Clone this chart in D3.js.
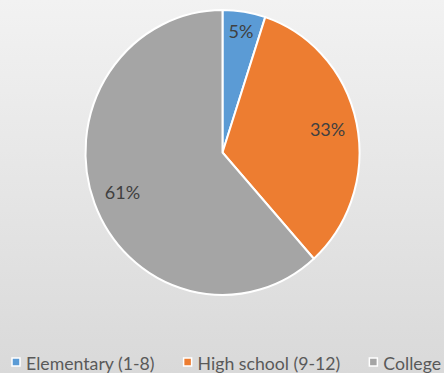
<!DOCTYPE html>
<html>
<head>
<meta charset="utf-8">
<script src="https://cdn.jsdelivr.net/npm/d3@7"></script>
<style>
  html, body { margin: 0; padding: 0; overflow: hidden; }
  svg { display: block; }
</style>
</head>
<body>
<div id="chart"></div>
<script>
const categories = ["Elementary (1-8)", "High school (9-12)", "College"];
const values = [5, 33, 61];
const colors = ["#5b9bd5", "#ed7d31", "#a5a5a5"];

const W = 444, H = 373;
const cx = 222.5, cy = 152.5, R = 137, SY = 1.04;
const FONT = "Lato, 'Open Sans', sans-serif";

const svg = d3.select("#chart").append("svg")
  .attr("width", W).attr("height", H);

const defs = svg.append("defs");
const grad = defs.append("linearGradient").attr("id", "bg")
  .attr("x1", 0).attr("y1", 0).attr("x2", 0).attr("y2", 1);
grad.append("stop").attr("offset", "0%").attr("stop-color", "#f2f2f2");
grad.append("stop").attr("offset", "100%").attr("stop-color", "#d9d9d9");

svg.append("rect").attr("width", W).attr("height", H).attr("fill", "url(#bg)");

const data = categories.map((c, i) => ({ name: c, value: values[i], color: colors[i] }));

const pie = d3.pie().sort(null).value(d => d.value);
const arc = d3.arc().innerRadius(0).outerRadius(R);

const g = svg.append("g").attr("transform", `translate(${cx},${cy}) scale(1,${SY})`);
const arcs = pie(data);

g.selectAll("path.slice").data(arcs).join("path")
  .attr("class", "slice")
  .attr("d", arc)
  .attr("fill", d => d.data.color)
  .attr("stroke", "#ffffff")
  .attr("stroke-width", 2)
  .attr("stroke-linejoin", "round");

// Data labels: place text box inside the slice along its mid angle
const lg = svg.append("g");
arcs.forEach(d => {
  const t = lg.append("text")
    .attr("text-anchor", "middle")
    .attr("font-family", FONT)
    .attr("font-size", 18)
    .attr("fill", "#404040")
    .text(Math.round(d.data.value) + "%");
  const bb = t.node().getBBox();
  const hw = bb.width / 2, hh = 7;
  const a = (d.startAngle + d.endAngle) / 2;
  const s = Math.sin(a), c = Math.cos(a);
  const dist = R * 0.92 - (hw * Math.abs(s) + hh * Math.abs(c));
  const px = cx + dist * s;
  const py = cy - dist * c * SY;
  t.attr("x", px).attr("y", py).attr("dy", "0.35em");
});

// Legend
const legend = svg.append("g").attr("class", "legend");
const baseY = 370;
let x = 12;
data.forEach((d, i) => {
  const item = legend.append("g");
  item.append("rect")
    .attr("x", x).attr("y", baseY - 12)
    .attr("width", 8).attr("height", 8)
    .attr("fill", d.color)
    .attr("stroke", "#ffffff").attr("stroke-width", 1.5);
  const t = item.append("text")
    .attr("x", x + 14).attr("y", baseY)
    .attr("font-family", FONT)
    .attr("font-size", 17.7)
    .attr("fill", "#595959")
    .text(d.name);
  const w = t.node().getComputedTextLength();
  x = x + 14 + w + 29;
});
</script>
</body>
</html>
